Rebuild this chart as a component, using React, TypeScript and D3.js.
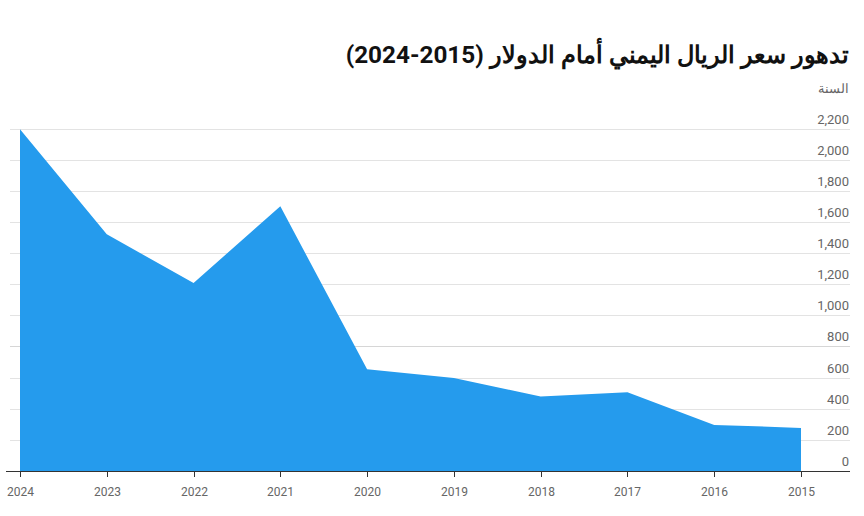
import React from "react";
import * as d3 from "d3";

const years = ["2024", "2023", "2022", "2021", "2020", "2019", "2018", "2017", "2016", "2015"];
const rates = [2195, 1520, 1208, 1700, 654, 598, 478, 506, 296, 277];
const yTicks = [0, 200, 400, 600, 800, 1000, 1200, 1400, 1600, 1800, 2000, 2200];
const title = "تدهور سعر الريال اليمني أمام الدولار (2015-2024)";
const yAxisTitle = "السنة";

const W = 864;
const H = 516;

export default function App() {
  const x = d3.scalePoint<string>().domain(years).range([20, 801]);
  const y = d3.scaleLinear().domain([0, 2200]).range([471, 128.5]);
  const data = years.map((yr, i) => ({ yr, v: rates[i] }));
  const area = d3
    .area<{ yr: string; v: number }>()
    .x((d) => x(d.yr) as number)
    .y0(y(0))
    .y1((d) => y(d.v));
  const font = "Roboto, 'Noto Sans', sans-serif";
  return (
    <svg
      width={W}
      height={H}
      style={{ position: "absolute", left: 0, top: 0, background: "#fff" }}
      fontFamily={font}
    >
      <text
        x={849}
        y={63}
        textAnchor="start"
        direction="rtl"
        fontSize={24.3}
        fontWeight={700}
        fill="#111"
      >
        {title}
      </text>
      <text x={849} y={93} textAnchor="start" direction="rtl" fontSize={13} fill="#666">
        {yAxisTitle}
      </text>
      {yTicks.map((t) =>
        t === 0 ? null : (
          <line
            key={"g" + t}
            x1={10}
            x2={850}
            y1={Math.round(y(t)) + 0.5}
            y2={Math.round(y(t)) + 0.5}
            stroke={t === 800 ? "#d6d6d6" : "#e3e3e3"}
            strokeWidth={1}
          />
        )
      )}
      <path d={area(data) || ""} fill="#259bed" />
      {yTicks.map((t) => (
        <text
          key={"l" + t}
          x={849}
          y={y(t) - 5}
          textAnchor="end"
          fontSize={13}
          fill="#666"
        >
          {d3.format(",")(t)}
        </text>
      ))}
      <line x1={6} x2={850} y1={471.5} y2={471.5} stroke="#333" strokeWidth={1} />
      {years.map((yr) => (
        <g key={yr} transform={`translate(${Math.round(x(yr) as number) + 0.5},0)`}>
          <line y1={471} y2={477} stroke="#333" strokeWidth={1} />
          <text y={496} textAnchor="middle" fontSize={12} fill="#666">
            {yr}
          </text>
        </g>
      ))}
    </svg>
  );
}
